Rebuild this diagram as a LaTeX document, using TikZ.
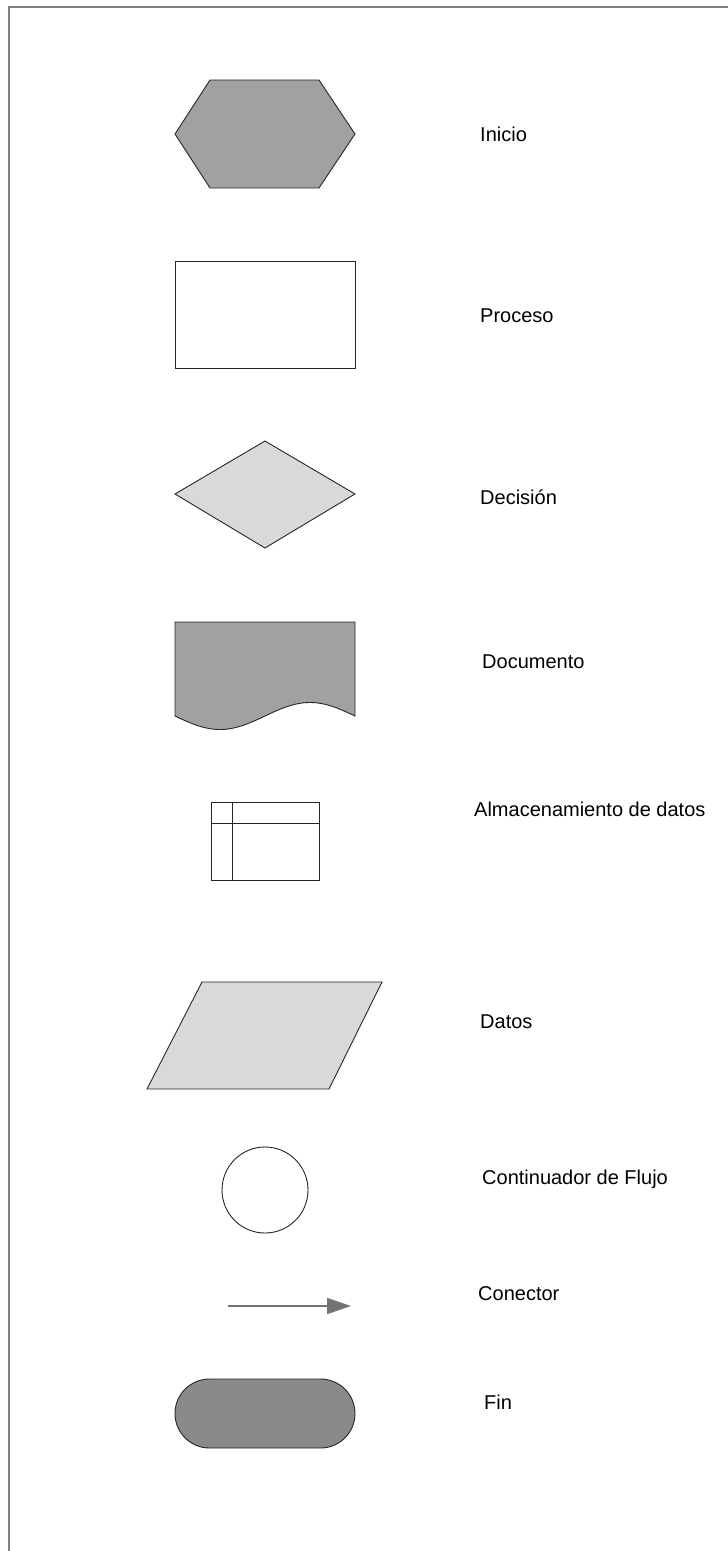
\documentclass[tikz,border=0pt]{standalone}
\usepackage{fontspec}
\setmainfont{Liberation Sans}
\usetikzlibrary{arrows.meta}
\begin{document}
\begin{tikzpicture}[x=1pt,y=-1pt,
  shapeline/.style={draw=black!85,line width=0.9pt,line join=miter},
  darkfill/.style={fill=black!37},
  lightfill/.style={fill=black!15},
  termfill/.style={fill=black!46},
  lbl/.style={anchor=base west,inner sep=0pt,font=\fontsize{20}{23}\selectfont},
  frameline/.style={draw=black!50,line width=2pt},
  conn/.style={draw=black!55,line width=1.6pt,-{Triangle[length=24pt,width=16pt]}}]
\useasboundingbox (0,0) rectangle (728,1551);
% frame
\draw[frameline] (8.5,1560) -- (8.5,7) -- (740,7);
% Inicio: hexagon
\draw[shapeline,darkfill] (175,134) -- (210,80) -- (319,80) -- (355,134) -- (319,188) -- (210,188) -- cycle;
\node[lbl] (tInicio) at (480,141) {Inicio};
% Proceso
\draw[shapeline,fill=white] (175,261) rectangle (355,368);
\node[lbl] (tProceso) at (480,322) {Proceso};
% Decision
\draw[shapeline,lightfill] (265,441) -- (355,494) -- (265,548) -- (175,494) -- cycle;
\node[lbl] (tDecision) at (480,504) {Decisión};
% Documento
\draw[shapeline,darkfill] (175,716) -- (175,622) -- (355,622) -- (355,716)
  -- plot[domain=355:175,samples=80] (\x,{716+13.5*sin((\x-175)*2)}) -- cycle;
\node[lbl] (tDocumento) at (482,668) {Documento};
% Almacenamiento
\draw[shapeline,fill=white] (211,802) rectangle (319,880);
\draw[shapeline] (211,823) -- (319,823);
\draw[shapeline] (232,802) -- (232,880);
\node[lbl] (tAlmacen) at (474,816) {Almacenamiento de datos};
% Datos
\draw[shapeline,lightfill] (202,982) -- (382,982) -- (329,1089) -- (147,1089) -- cycle;
\node[lbl] (tDatos) at (480,1028) {Datos};
% Continuador
\draw[shapeline,fill=white] (265,1190) circle (43);
\node[lbl] (tCont) at (482,1184) {Continuador de Flujo};
% Conector
\coordinate (cA) at (228,1306);
\coordinate (cT) at (351,1306);
\draw[conn] (cA) -- (cT);
\node[lbl] (tConector) at (478,1300) {Conector};
% Fin
\draw[shapeline,termfill,rounded corners=34.5] (175,1379) rectangle (355,1448);
\node[lbl] (tFin) at (484,1409) {Fin};
\end{tikzpicture}
\end{document}
